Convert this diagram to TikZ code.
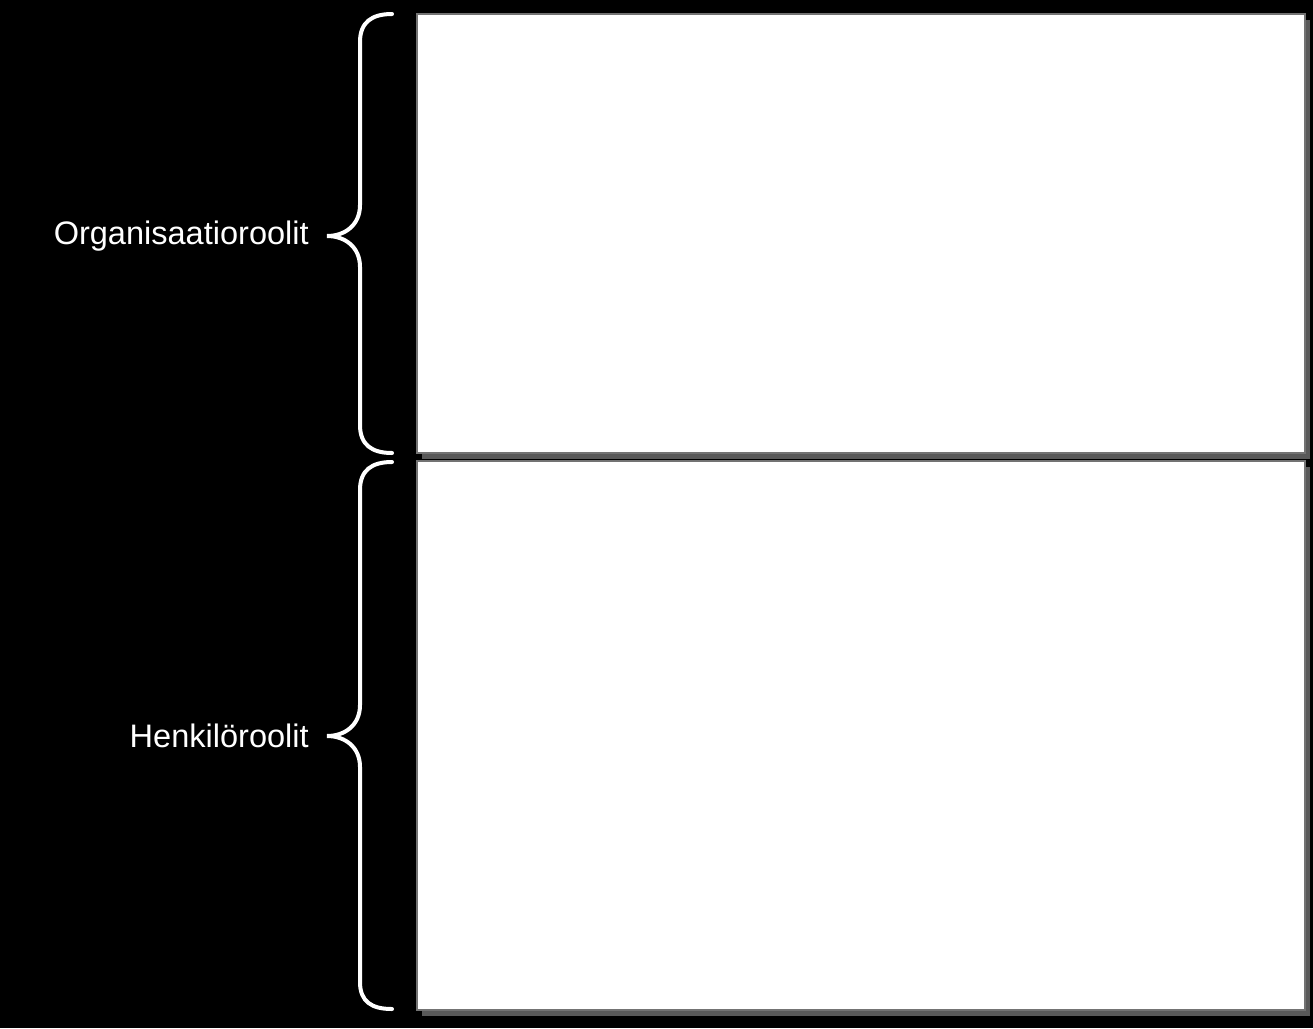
\documentclass[tikz,border=0pt]{standalone}
\usepackage{fontspec}
\setmainfont{Liberation Sans}
\begin{document}
\begin{tikzpicture}[x=0.75pt,y=-0.75pt,
  panel/.style={draw=black!55,line width=0.8pt,fill=white,inner sep=0pt,outer sep=0pt,
    minimum width=666pt},
  shade/.style={fill=black!65!white,draw=none},
  bracepath/.style={draw=white,line width=3pt,line cap=round},
  lbl/.style={text=white,font=\fontsize{24.4}{28}\selectfont,anchor=east,inner sep=0pt}]
\fill[black] (0,0) rectangle (1313,1028);
\useasboundingbox (0,0) rectangle (1313,1028);
% shadows
\fill[shade] (422,20) rectangle (1310,459);
\fill[shade] (422,467) rectangle (1310,1016);
% boxes
\node[panel,minimum height=329.25pt] (box1) at (861,233.5) {};
\node[panel,minimum height=411.75pt] (box2) at (861,735.5) {};
% braces
\draw[bracepath] (392,14) .. controls (372,14) and (360,22) .. (360,42) -- (360,205)
  .. controls (360,225) and (345,236) .. (327,236)
  .. controls (345,236) and (360,247) .. (360,267) -- (360,425)
  .. controls (360,445) and (372,453) .. (392,453);
\draw[bracepath] (392,462) .. controls (372,462) and (360,470) .. (360,490) -- (360,705)
  .. controls (360,725) and (345,736) .. (327,736)
  .. controls (345,736) and (360,747) .. (360,767) -- (360,982)
  .. controls (360,1002) and (372,1009) .. (392,1009);
% labels
\node[lbl] (org) at (309,236) {Organisaatioroolit};
\node[lbl] (hen) at (309,736) {Henkilöroolit};
\end{tikzpicture}
\end{document}
